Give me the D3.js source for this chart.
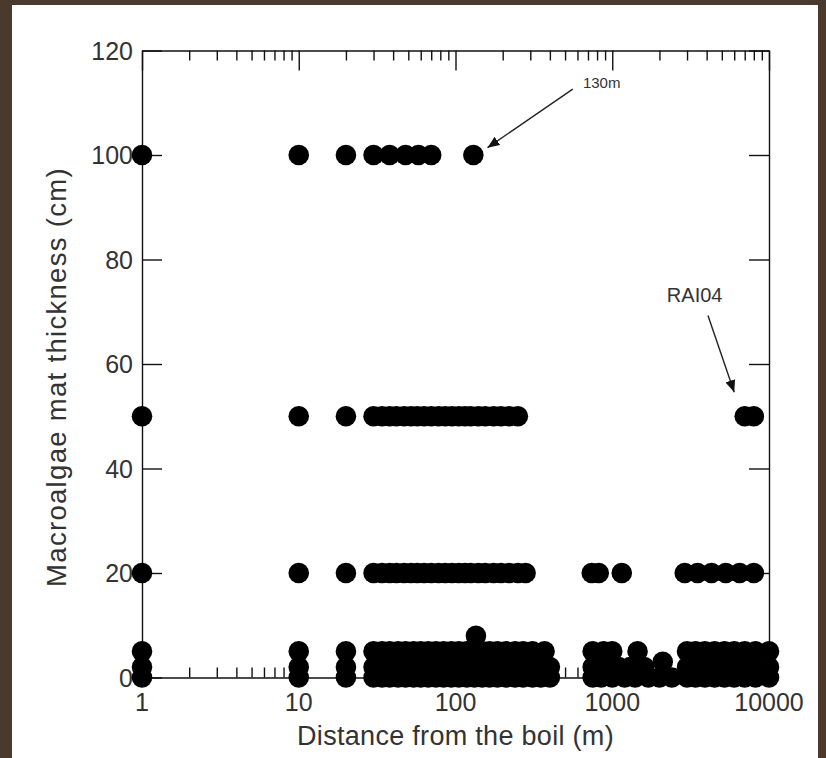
<!DOCTYPE html>
<html>
<head>
<meta charset="utf-8">
<script src="https://cdn.jsdelivr.net/npm/d3@7"></script>
<style>
	html, body { margin: 0; padding: 0; background: #4a3a2e; }
	svg { display: block; }
	text { font-family: "Liberation Sans", Arial, sans-serif; fill: #333; }
</style>
</head>
<body>
<figure id="algaeChart" style="margin:0"></figure>
<script>
// distances from the boil (m) grouped by mat thickness (cm)
const dist100 = [1, 10, 20, 30, 38, 48, 58, 70, 130];
const dist50 = [1, 10, 20, 30, 34, 38, 42, 47, 52, 57, 63, 70, 78, 86, 95, 105, 115, 125, 140, 155, 175, 195, 220, 250, 7000, 8000];
const dist20 = [1, 10, 20, 30, 34, 38, 42, 47, 52, 57, 63, 70, 78, 86, 95, 105, 115, 125, 140, 155, 175, 195, 220, 250, 280, 740, 820, 1150, 2900, 3500, 4300, 5300, 6500, 8000];
const dist8 = [135];
const dist5 = [1, 10, 20, 30, 34, 38, 43, 48, 54, 60, 67, 75, 84, 94, 105, 118, 132, 148, 165, 185, 210, 240, 270, 310, 370, 750, 880, 1000, 1450, 3000, 3400, 3900, 4500, 5200, 6000, 7000, 8200, 10000];
const dist3 = [2100];
const dist2 = [1, 10, 20, 30, 34, 38, 43, 48, 54, 60, 67, 75, 84, 94, 105, 118, 132, 148, 165, 185, 210, 240, 270, 310, 350, 400, 750, 900, 1100, 1300, 1600, 3000, 3400, 3900, 4500, 5200, 6000, 7000, 8200, 10000];
const dist0 = [1, 10, 20, 30, 34, 38, 43, 48, 54, 60, 67, 75, 84, 94, 105, 118, 132, 148, 165, 185, 210, 240, 270, 310, 350, 400, 750, 850, 1000, 1200, 1400, 1700, 2000, 2400, 3000, 3400, 3900, 4500, 5200, 6000, 7000, 8200, 10000];

const thicknessLevels = [100, 50, 20, 8, 5, 3, 2, 0];
const distanceRows = [dist100, dist50, dist20, dist8, dist5, dist3, dist2, dist0];

const xTickLabels = [1, 10, 100, 1000, 10000];
const yTickLabels = [0, 20, 40, 60, 80, 100, 120];

// annotations: label position and arrow (from -> to) in data units
const noteText = ["130m", "RAI04"];
const noteAt = [[650, 112.8], [2230, 71.8]];
const arrowFrom = [[560, 112.6], [4080, 69.3]];
const arrowTo = [[160, 101.4], [6000, 54.6]];
const noteSize = [15, 20];

class AlgaeChart {

	constructor() {
		this.width = 826;
		this.height = 758;
		this.margin = { top: 50.5, bottom: 80.5, left: 142, right: 57 };
		this.dotRadius = 10.3;
	}

	init() {
		const figure = d3.select("figure#algaeChart");
		this.svg = figure.append("svg")
			.attr("width", this.width)
			.attr("height", this.height);
		// white page inside the brown frame
		this.svg.append("rect")
			.attr("x", 12).attr("y", 5)
			.attr("width", 806).attr("height", this.height - 5)
			.attr("fill", "white");
	}

	draw() {
		const width = this.width - this.margin.left - this.margin.right;
		const height = this.height - this.margin.top - this.margin.bottom;
		const g = this.svg.append("g")
			.attr("transform", "translate(" + this.margin.left + "," + this.margin.top + ")");

		this.xScale = d3.scaleLog().domain([1, 10000]).range([0, width]);
		this.yScale = d3.scaleLinear().domain([0, 120]).range([height, 0]);

		const isMajor = (d) => xTickLabels.includes(d);
		const xTicks = this.xScale.ticks();

		// bottom and top axes, ticks pointing inward
		const xBottom = g.append("g").attr("transform", "translate(0," + height + ")")
			.call(d3.axisBottom(this.xScale).tickValues(xTicks).tickSize(0).tickFormat(""));
		xBottom.selectAll(".tick line")
			.attr("y2", (d) => isMajor(d) ? -20 : -10);
		const xTop = g.append("g")
			.call(d3.axisTop(this.xScale).tickValues(xTicks).tickSize(0).tickFormat(""));
		xTop.selectAll(".tick line")
			.attr("y2", (d) => isMajor(d) ? 20 : 10);

		// left and right axes
		const yLeft = g.append("g")
			.call(d3.axisLeft(this.yScale).tickValues(yTickLabels).tickSize(0).tickFormat(""));
		yLeft.selectAll(".tick line").attr("x2", 20);
		const yRight = g.append("g").attr("transform", "translate(" + width + ",0)")
			.call(d3.axisRight(this.yScale).tickValues(yTickLabels).tickSize(0).tickFormat(""));
		yRight.selectAll(".tick line").attr("x2", -20);

		g.selectAll(".domain").attr("stroke", "#111").attr("stroke-width", 1.4);
		g.selectAll(".tick line").attr("stroke", "#111").attr("stroke-width", 1.4);

		// tick labels
		g.selectAll("text.xlab").data(xTickLabels).enter().append("text")
			.attr("class", "xlab")
			.attr("x", (d) => this.xScale(d))
			.attr("y", height + 33)
			.attr("text-anchor", "middle")
			.attr("font-size", 25)
			.text((d) => d);
		g.selectAll("text.ylab").data(yTickLabels).enter().append("text")
			.attr("class", "ylab")
			.attr("x", -9)
			.attr("y", (d) => this.yScale(d))
			.attr("dy", "0.36em")
			.attr("text-anchor", "end")
			.attr("font-size", 25)
			.text((d) => d);

		// axis titles
		g.append("text")
			.attr("x", width / 2)
			.attr("y", height + 67)
			.attr("text-anchor", "middle")
			.attr("font-size", 27)
			.attr("letter-spacing", 0.3)
			.text("Distance from the boil (m)");
		g.append("text")
			.attr("transform", "translate(-76," + (height / 2 + 13) + ") rotate(-90)")
			.attr("text-anchor", "middle")
			.attr("font-size", 27.5)
			.attr("letter-spacing", 1.3)
			.text("Macroalgae mat thickness (cm)");

		// points
		const points = [];
		for (let i = 0; i < thicknessLevels.length; i++) {
			distanceRows[i].forEach((d) => points.push([d, thicknessLevels[i]]));
		}
		g.selectAll("circle.pt").data(points).enter().append("circle")
			.attr("class", "pt")
			.attr("cx", (d) => this.xScale(d[0]))
			.attr("cy", (d) => this.yScale(d[1]))
			.attr("r", this.dotRadius)
			.attr("fill", "black");

		// annotations
		const defs = this.svg.append("defs");
		defs.append("marker")
			.attr("id", "head")
			.attr("viewBox", "0 0 12 10")
			.attr("refX", 12).attr("refY", 5)
			.attr("markerWidth", 12).attr("markerHeight", 10)
			.attr("markerUnits", "userSpaceOnUse")
			.attr("orient", "auto")
			.append("path").attr("d", "M0,0 L12,5 L0,10 Z").attr("fill", "#111");
		for (let i = 0; i < noteText.length; i++) {
			g.append("line")
				.attr("x1", this.xScale(arrowFrom[i][0])).attr("y1", this.yScale(arrowFrom[i][1]))
				.attr("x2", this.xScale(arrowTo[i][0])).attr("y2", this.yScale(arrowTo[i][1]))
				.attr("stroke", "#222").attr("stroke-width", 1.4)
				.attr("marker-end", "url(#head)");
			g.append("text")
				.attr("x", this.xScale(noteAt[i][0]))
				.attr("y", this.yScale(noteAt[i][1]))
				.attr("font-size", noteSize[i])
				.text(noteText[i]);
		}
	}
}

var algaeChart = new AlgaeChart();
algaeChart.init();
algaeChart.draw();
</script>
</body>
</html>
